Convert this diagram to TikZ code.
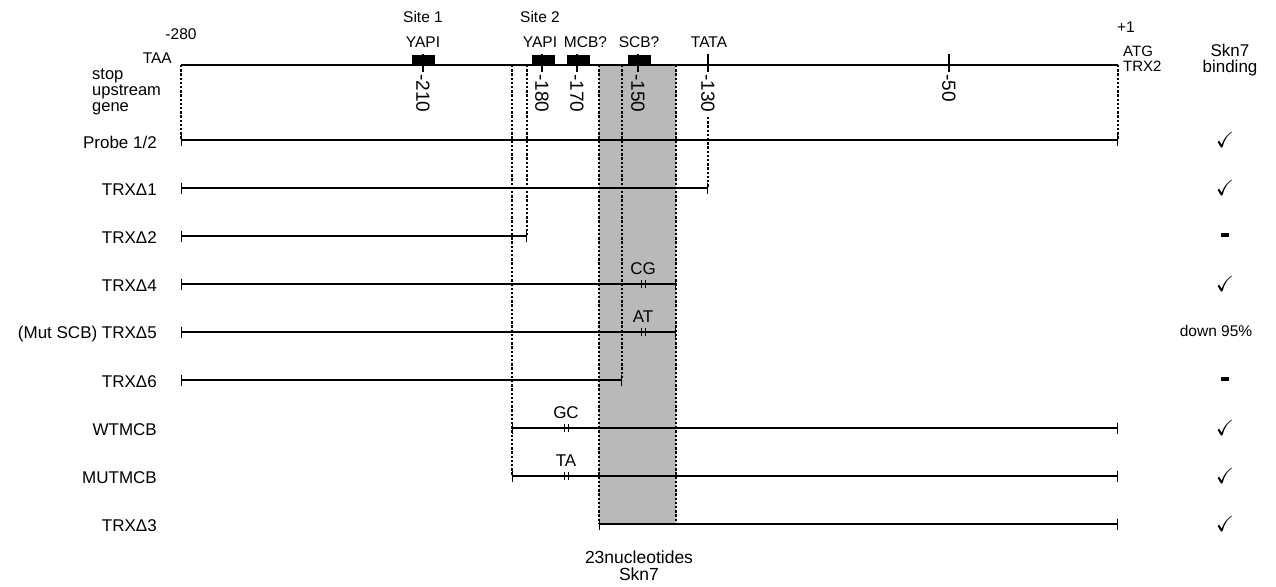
\documentclass[tikz,border=0pt]{standalone}
\usepackage{amssymb}
\usepackage{fontspec}
\setmainfont{Liberation Sans}
\usetikzlibrary{arrows.meta,positioning}

\begin{document}
\begin{tikzpicture}[
  x=1pt, y=-1pt,
  font=\fontsize{15.5}{16}\selectfont,
  dna/.style={black, line width=1.5pt},
  frag/.style={{Bar[width=11pt]}-{Bar[width=11pt]}, black, line width=1.1pt},
  guide/.style={black, line width=1.1pt, dash pattern=on 2.4pt off 1.8pt},
  site/.style={fill=black, minimum width=23pt, minimum height=9pt, inner sep=0pt},
  bpnum/.style={rotate=-90, anchor=west, inner sep=1pt, font=\fontsize{19}{19}\selectfont},
  rowlab/.style={anchor=east, inner sep=1pt, font=\fontsize{17}{18}\selectfont},
  res/.style={inner sep=1pt, font=\fontsize{22}{22}\selectfont},
  mut/.style={inner sep=1pt, font=\fontsize{17}{18}\selectfont},
]
\useasboundingbox (0,0) rectangle (1276,586);

% ---------------- 23 nt Skn7 region -------------------------------------
\fill[gray!55] (599,65) rectangle (676,524);

% ---------------- promoter line -----------------------------------------
\coordinate (taa) at (181,65);
\coordinate (atg) at (1118,65);
\draw[dna] (taa) -- (atg);
\foreach \x/\t in {423/-210, 542/-180, 577/-170, 638/-150, 708/-130, 949/-50} {
  \draw[dna, line width=1.1pt] (\x,54) -- (\x,72);
  \node[bpnum] (p\t) at (\x,73) {\t};
}
\node[site] (yapi1) at (423.5,60) {};
\node[site] (yapi2) at (543,60) {};
\node[site] (mcb) at (578.5,60) {};
\node[site] (scb) at (639.5,60) {};

\node (site1) at (423,17) {Site 1};
\node (ylab1) at (423,42) {YAPI};
\node (site2) at (540,17) {Site 2};
\node (ylab2) at (540,42) {YAPI};
\node (mlab) at (585.5,42) {MCB?};
\node (slab) at (639,42) {SCB?};
\node (tata) at (709,42) {TATA};

\node (m280) at (181,34) {-280};
\node[anchor=east, inner sep=1pt] (taalab) at (173,58) {TAA};
\node[anchor=west, align=left, inner sep=1pt,
      font=\fontsize{16.5}{16}\selectfont] (stop) at (91,92) {stop\\upstream\\gene};
\node (p1) at (1126,27) {+1};
\node[anchor=west, align=left, inner sep=1pt,
      font=\fontsize{15}{14.5}\selectfont] (atglab) at (1122,59) {ATG\\TRX2};
\node[align=center, font=\fontsize{17}{16}\selectfont] (skn) at (1230,60) {Skn7\\binding};

% ---------------- deletion end points -----------------------------------
\draw[guide] (181,65) -- (181,140);
\draw[guide] (1118,65) -- (1118,140);
\draw[guide] (512,65) -- (512,476);
\draw[guide] (527,65) -- (527,236);
\draw[guide] (599,65) -- (599,524);
\draw[guide] (622,65) -- (622,380);
\draw[guide] (676,65) -- (676,524);
\draw[guide] (708,117) -- (708,188);

% ---------------- probes ------------------------------------------------
\foreach \n/\t/\y/\a/\b/\r in {
    pr/Probe 1\slash 2/140/181/1118/$\checkmark$,
    d1/TRXΔ1/188/181/708/$\checkmark$,
    d2/TRXΔ2/236/181/527/\rule[2pt]{8pt}{3.5pt},
    d4/TRXΔ4/284/181/676/$\checkmark$,
    d5/(Mut SCB) TRXΔ5/332/181/676/{},
    d6/TRXΔ6/380/181/622/\rule[2pt]{8pt}{3.5pt},
    wt/WTMCB/428/512/1118/$\checkmark$,
    mu/MUTMCB/476/512/1118/$\checkmark$,
    d3/TRXΔ3/524/599/1118/$\checkmark$} {
  \node[rowlab] (\n) at (158,\y+2) {\t};
  \coordinate (\n-a) at (\a,\y);
  \coordinate (\n-b) at (\b,\y);
  \draw[frag] (\n-a) -- (\n-b);
  \node[res] (\n-r) at (1225,\y) {\r};
}
\node[inner sep=1pt] (d5-down) at (1216,331) {down 95\%};

% ---------------- point mutations ---------------------------------------
\foreach \m/\x/\y/\t in {cg/643/284/CG, at/643/332/AT, gc/566/428/GC, ta/566/476/TA} {
  \draw[black, line width=0.9pt] (\x-2,\y-4) -- (\x-2,\y+4) (\x+2,\y-4) -- (\x+2,\y+4);
  \node[mut] (\m) at (\x,\y-15) {\t};
}

\node[align=center, font=\fontsize{17.5}{17}\selectfont] (nt23) at (639,566)
  {23nucleotides\\Skn7};

\end{tikzpicture}
\end{document}
